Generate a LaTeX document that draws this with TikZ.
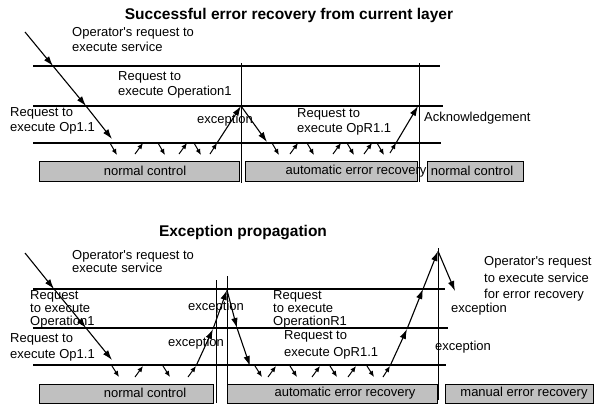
\documentclass[tikz,border=0pt]{standalone}
\usepackage{fontspec}
\setmainfont{Liberation Sans}
\usetikzlibrary{arrows.meta,positioning,calc}
\definecolor{boxgray}{RGB}{192,192,192}

\begin{document}
\begin{tikzpicture}[x=1pt,y=-1pt,
    lbl/.style={font=\fontsize{13}{15}\selectfont, inner sep=0pt, align=left, anchor=west},
    tight/.style={font=\fontsize{13}{13}\selectfont},
    loose/.style={font=\fontsize{13}{16.5}\selectfont},
    ttl/.style={font=\fontsize{15.5}{17}\selectfont\bfseries, inner sep=0pt},
    layer/.style={line width=1.1pt},
    sep/.style={line width=0.8pt},
    box/.style={draw, line width=0.8pt, fill=boxgray, inner sep=0pt, anchor=north west, minimum height=20pt},
    flow/.style={line width=1.1pt, -{Latex[length=10pt,width=6.5pt]}},
    tick/.style={line width=1pt, -{Latex[length=6pt,width=5pt]}}]
  \useasboundingbox (0,0) rectangle (594,405);

  % successful error recovery
  \node[ttl] (title1) at (289,15) {Successful error recovery from current layer};
  \node[lbl] (opreq) at (72,40) {Operator\textquotesingle s request to\\execute service};
  \node[lbl] (reqop) at (118,85) {Request to\\execute Operation1};
  \node[lbl] (reqsub) at (10,121) {Request to\\execute Op1.1};
  \node[lbl] (exc) at (197,120) {exception};
  \node[lbl] (reqopr) at (297,122) {Request to\\execute OpR1.1};
  \node[lbl] (ack) at (424,118) {Acknowledgement};

  \draw[layer] (33,66) -- (440,66);
  \draw[layer] (33,106) -- (443,106);
  \draw[layer] (33,143) -- (441,143);
  \draw[sep] (241,63) -- (241,183);
  \draw[sep] (419,63) -- (419,182);

  \node[box, minimum width=200pt] (nc1) at (39,161) {};
  \node[box, minimum width=172pt] (aer1) at (245,161) {};
  \node[box, minimum width=96pt] (nc2) at (427,161) {};
  \node[lbl, anchor=center] (nc1t) at (145,171) {normal control};
  \node[lbl, anchor=center] (aer1t) at (356,171) {automatic error recovery};
  \node[lbl, anchor=center] (nc2t) at (472,171) {normal control};

  \coordinate (s0) at (25,32);
  \coordinate (s1) at (53,66);
  \coordinate (s2) at (86,106);
  \coordinate (s3) at (112,139);
  \draw[flow] (s0) -- (s1);
  \draw[flow] (s1) -- (s2);
  \draw[flow] (s2) -- (s3);

  \foreach \x in {110,158,194,272,307,347,377}
    \draw[tick] (\x,143) -- ++(7,12);
  \foreach \x in {135,179,290,333,364}
    \draw[tick] (\x,154) -- ++(8,-11);

  \coordinate (e0) at (210,154);
  \coordinate (e1) at (217,143);
  \coordinate (e2) at (241,106);
  \coordinate (e3) at (267,142);
  \draw[tick] (e0) -- (e1);
  \draw[flow] (e1) -- (e2);
  \draw[flow] (e2) -- (e3);

  \coordinate (k0) at (390,153);
  \coordinate (k1) at (396,143);
  \coordinate (k2) at (418,106);
  \draw[tick] (k0) -- (k1);
  \draw[flow] (k1) -- (k2);

  % exception propagation
  \node[ttl] (title2) at (243,233) {Exception propagation};
  \node[lbl, tight] (opreqb) at (72,261.5) {Operator\textquotesingle s request to\\execute service};
  \node[lbl, tight] (reqopb) at (30,309) {Request\\to execute\\Operation1};
  \node[lbl, loose] (reqsubb) at (10,347.5) {Request to\\execute Op1.1};
  \node[lbl] (excb1) at (188,307) {exception};
  \node[lbl] (excb2) at (168,343) {exception};
  \node[lbl, tight] (reqoprb) at (273,309) {Request\\to execute\\OperationR1};
  \node[lbl, loose] (reqoprsub) at (284,345) {Request to\\execute OpR1.1};
  \node[lbl, loose] (opreqr) at (484,279) {Operator\textquotesingle s request\\to execute service\\for error recovery};
  \node[lbl] (excb3) at (451,309) {exception};
  \node[lbl] (excb4) at (435,347) {exception};

  \draw[layer] (33,289) -- (445,289);
  \draw[layer] (33,328) -- (448,328);
  \draw[layer] (33,365) -- (446,365);
  \draw[sep] (216,280) -- (216,403);
  \draw[sep] (227,276) -- (227,385);
  \draw[sep] (438,248) -- (438,400);

  \node[box, minimum width=174pt, minimum height=19pt] (nc3) at (39,384) {};
  \node[box, minimum width=210pt, minimum height=19pt] (aer2) at (227,384) {};
  \node[box, minimum width=148pt, minimum height=19pt] (mer) at (445,384) {};
  \node[lbl, anchor=center] (nc3t) at (145,393) {normal control};
  \node[lbl, anchor=center] (aer2t) at (345,393) {automatic error recovery};
  \node[lbl, anchor=center] (mert) at (524,393) {manual error recovery};

  \coordinate (p0) at (25,253);
  \coordinate (p1) at (54,289);
  \coordinate (p2) at (86,328);
  \coordinate (p3) at (112,360);
  \draw[flow] (p0) -- (p1);
  \draw[flow] (p1) -- (p2);
  \draw[flow] (p2) -- (p3);

  \foreach \x in {112,163,255,290,330,367}
    \draw[tick] (\x,366) -- ++(7,11);
  \foreach \x in {135,268,312,348}
    \draw[tick] (\x,377) -- ++(8,-11);

  \coordinate (u0) at (188,377);
  \coordinate (u1) at (196,366);
  \coordinate (u2) at (213,329);
  \coordinate (u3) at (227,290);
  \coordinate (u4) at (237,328);
  \coordinate (u5) at (250,366);
  \draw[tick] (u0) -- (u1);
  \draw[flow] (u1) -- (u2);
  \draw[flow] (u2) -- (u3);
  \draw[flow] (u3) -- (u4);
  \draw[flow] (u4) -- (u5);

  \coordinate (r0) at (383,377);
  \coordinate (r1) at (390,366);
  \coordinate (r2) at (407,329);
  \coordinate (r3) at (423,289);
  \coordinate (r4) at (438,251);
  \coordinate (r5) at (455,291);
  \draw[tick] (r0) -- (r1);
  \draw[flow] (r1) -- (r2);
  \draw[flow] (r2) -- (r3);
  \draw[flow] (r3) -- (r4);
  \draw[flow] (r4) -- (r5);
\end{tikzpicture}
\end{document}
